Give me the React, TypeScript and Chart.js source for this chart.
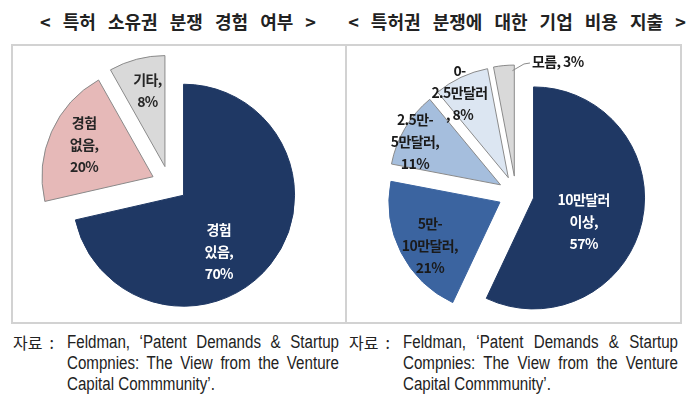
import React, { useEffect, useRef } from "react";
import { Chart, registerables } from "chart.js";

Chart.register(...registerables);

// ---- Data ----
const leftTitle = "< 특허 소유권 분쟁 경험 여부 >";
const leftCategories = ["경험 있음", "경험 없음", "기타"];
const leftValues = [70, 20, 8];
const leftLabelLines = [["경험", "있음,", "70%"], ["경험", "없음,", "20%"], ["기타,", "8%"]];

const rightTitle = "< 특허권 분쟁에 대한 기업 비용 지출 >";
const rightCategories = ["10만달러 이상", "5만-10만달러", "2.5만-5만달러", "0-2.5만달러", "모름"];
const rightValues = [57, 21, 11, 8, 3];
const rightLabelLines = [
  ["10만달러", "이상,", "57%"],
  ["5만-", "10만달러,", "21%"],
  ["2.5만-", "5만달러,", "11%"],
  ["0-", "2.5만달러", ", 8%"],
  ["모름, 3%"],
];

const sourceLabel = "자료 :";
const sourceLines = [
  "Feldman, ‘Patent Demands & Startup",
  "Compnies: The View from the Venture",
  "Capital Commmunity’.",
];

// ---- Styles / layout (not data) ----
const leftColors = ["#1F3864", "#E6B9B8", "#D9D9D9"];
const leftBorders = ["#1F3864", "#8a8a8a", "#8a8a8a"];
const leftTextColors = ["#ffffff", "#262626", "#262626"];
const leftPlace = [
  { angle: 148, frac: 0.6, align: "center" },
  { angle: 295, frac: 0.685, align: "center" },
  { angle: 347, frac: 0.7, align: "center" },
];

const rightColors = ["#1F3864", "#3B64A0", "#A5BEDD", "#DCE6F2", "#D9D9D9"];
const rightBorders = ["#1F3864", "#3B64A0", "#8a8a8a", "#8a8a8a", "#8a8a8a"];
const rightTextColors = ["#ffffff", "#1a1a1a", "#1a1a1a", "#1a1a1a", "#1a1a1a"];
const rightPlace = [
  { angle: 115.5, frac: 0.5, align: "center" },
  { angle: 238, frac: 0.744, align: "center" },
  { angle: 297, frac: 0.865, align: "center" },
  { angle: 330, frac: 0.88, align: "center" },
  { angle: 8.8, frac: 1.04, align: "left", leader: { angle: 359, frac: 0.95 } },
];

const LABEL_FONT = 'bold 14px "Noto Sans CJK KR", "Noto Sans", sans-serif';
const EXPLODE = 18;

function makePlugins(lines: string[][], place: any[], textColors: string[]) {
  return [
    {
      id: "explodeDraw",
      beforeDatasetDraw(chart: any, args: any) {
        const ctx = chart.ctx;
        args.meta.data.forEach((arc: any) => {
          const mid = (arc.startAngle + arc.endAngle) / 2;
          ctx.save();
          ctx.translate(Math.cos(mid) * EXPLODE, Math.sin(mid) * EXPLODE);
          arc.draw(ctx, chart.chartArea);
          ctx.restore();
        });
        return false;
      },
    },
    {
      id: "sliceLabels",
      afterDatasetsDraw(chart: any) {
        const ctx = chart.ctx;
        const meta = chart.getDatasetMeta(0);
        meta.data.forEach((arc: any, i: number) => {
          const mid = (arc.startAngle + arc.endAngle) / 2;
          const vx = arc.x + Math.cos(mid) * EXPLODE;
          const vy = arc.y + Math.sin(mid) * EXPLODE;
          const p = place[i];
          const a = ((p.angle - 90) * Math.PI) / 180;
          const r = p.frac * arc.outerRadius;
          const cx = vx + Math.cos(a) * r;
          const cy = vy + Math.sin(a) * r;
          ctx.save();
          if (p.leader) {
            const la = ((p.leader.angle - 90) * Math.PI) / 180;
            const lr = p.leader.frac * arc.outerRadius;
            const sx = vx + Math.cos(la) * lr;
            const sy = vy + Math.sin(la) * lr;
            ctx.strokeStyle = "#8a8a8a";
            ctx.lineWidth = 1;
            ctx.beginPath();
            ctx.moveTo(sx, sy);
            ctx.lineTo(cx - 8, cy + 2);
            ctx.lineTo(cx - 2, cy + 1);
            ctx.stroke();
          }
          ctx.font = LABEL_FONT;
          try {
            (ctx as any).letterSpacing = "-0.6px";
          } catch (e) {}
          ctx.fillStyle = textColors[i];
          ctx.textAlign = p.align;
          ctx.textBaseline = "middle";
          const ls = lines[i];
          const lh = 22;
          const startY = cy - ((ls.length - 1) * lh) / 2;
          ls.forEach((t, k) => ctx.fillText(t, cx, startY + k * lh));
          ctx.restore();
        });
      },
    },
  ];
}

function PieCanvas(props: {
  left: number;
  width: number;
  categories: string[];
  values: number[];
  colors: string[];
  borders: string[];
  padding: any;
  radius: number;
  lines: string[][];
  place: any[];
  textColors: string[];
}) {
  const ref = useRef<HTMLCanvasElement>(null);
  useEffect(() => {
    const chart = new Chart(ref.current as HTMLCanvasElement, {
      type: "pie",
      data: {
        labels: props.categories,
        datasets: [
          {
            data: props.values,
            backgroundColor: props.colors,
            borderColor: props.borders,
            borderWidth: 1,
          },
        ],
      },
      options: {
        responsive: false,
        animation: false,
        events: [],
        radius: props.radius,
        layout: { padding: props.padding },
        plugins: { legend: { display: false }, tooltip: { enabled: false } },
      } as any,
      plugins: makePlugins(props.lines, props.place, props.textColors) as any,
    });
    return () => chart.destroy();
  }, []);
  return (
    <canvas
      ref={ref}
      width={props.width}
      height={279}
      style={{ position: "absolute", left: props.left, top: 44, width: props.width, height: 279 }}
    />
  );
}

const textFont = '"Liberation Sans", Arial, "Noto Sans CJK KR", sans-serif';

function Source(props: { left: number; textLeft: number; textWidth: number }) {
  const scale = 0.84;
  return (
    <>
      <div
        style={{
          position: "absolute",
          left: props.left,
          top: 331,
          fontFamily: '"Noto Sans CJK KR", sans-serif',
          fontSize: 16,
          lineHeight: "22px",
          color: "#222",
          whiteSpace: "pre",
        }}
      >
        {sourceLabel.replace(" :", "  :")}
      </div>
      {sourceLines.map((t, i) => (
        <div
          key={i}
          style={{
            position: "absolute",
            left: props.textLeft,
            top: 331 + i * 21,
            width: props.textWidth / scale,
            transform: `scaleX(${scale})`,
            transformOrigin: "left top",
            fontFamily: textFont,
            fontSize: 18,
            lineHeight: "22px",
            color: "#222",
            whiteSpace: "nowrap",
          } as any}
        >
          {i < 2 ? (
            <span style={{ display: "block", whiteSpace: "normal", textAlign: "justify", textAlignLast: "justify" } as any}>{t}</span>
          ) : (
            t
          )}
        </div>
      ))}
    </>
  );
}

export default function App() {
  const titleStyle: any = {
    position: "absolute",
    top: 8,
    fontFamily: '"Noto Sans CJK KR", sans-serif',
    fontWeight: 700,
    fontSize: 18,
    lineHeight: "26px",
    color: "#222",
    wordSpacing: 8,
    whiteSpace: "nowrap",
    transform: "translateX(-50%)",
  };
  return (
    <div style={{ position: "absolute", left: 0, top: 0, width: 700, height: 412, background: "#fff", overflow: "hidden" }}>
      <div style={{ ...titleStyle, left: 178 }}>{leftTitle}</div>
      <div style={{ ...titleStyle, left: 517 }}>{rightTitle}</div>
      <div
        style={{
          position: "absolute",
          left: 11,
          top: 44,
          width: 336,
          height: 280,
          boxSizing: "border-box",
          border: "2px solid #d2d2d2",
        }}
      />
      <div
        style={{
          position: "absolute",
          left: 345,
          top: 44,
          width: 337,
          height: 280,
          boxSizing: "border-box",
          border: "2px solid #d2d2d2",
        }}
      />
      <PieCanvas
        left={11}
        width={335}
        categories={leftCategories}
        values={leftValues}
        colors={leftColors}
        borders={leftBorders}
        padding={{ left: 0, right: 18, top: 1, bottom: 0 }}
        radius={111}
        lines={leftLabelLines}
        place={leftPlace}
        textColors={leftTextColors}
      />
      <PieCanvas
        left={346}
        width={334}
        categories={rightCategories}
        values={rightValues}
        colors={rightColors}
        borders={rightBorders}
        padding={{ left: 6, right: 0, top: 21, bottom: 0 }}
        radius={111}
        lines={rightLabelLines}
        place={rightPlace}
        textColors={rightTextColors}
      />
      <Source left={13} textLeft={67} textWidth={272} />
      <Source left={349} textLeft={403} textWidth={275} />
    </div>
  );
}
